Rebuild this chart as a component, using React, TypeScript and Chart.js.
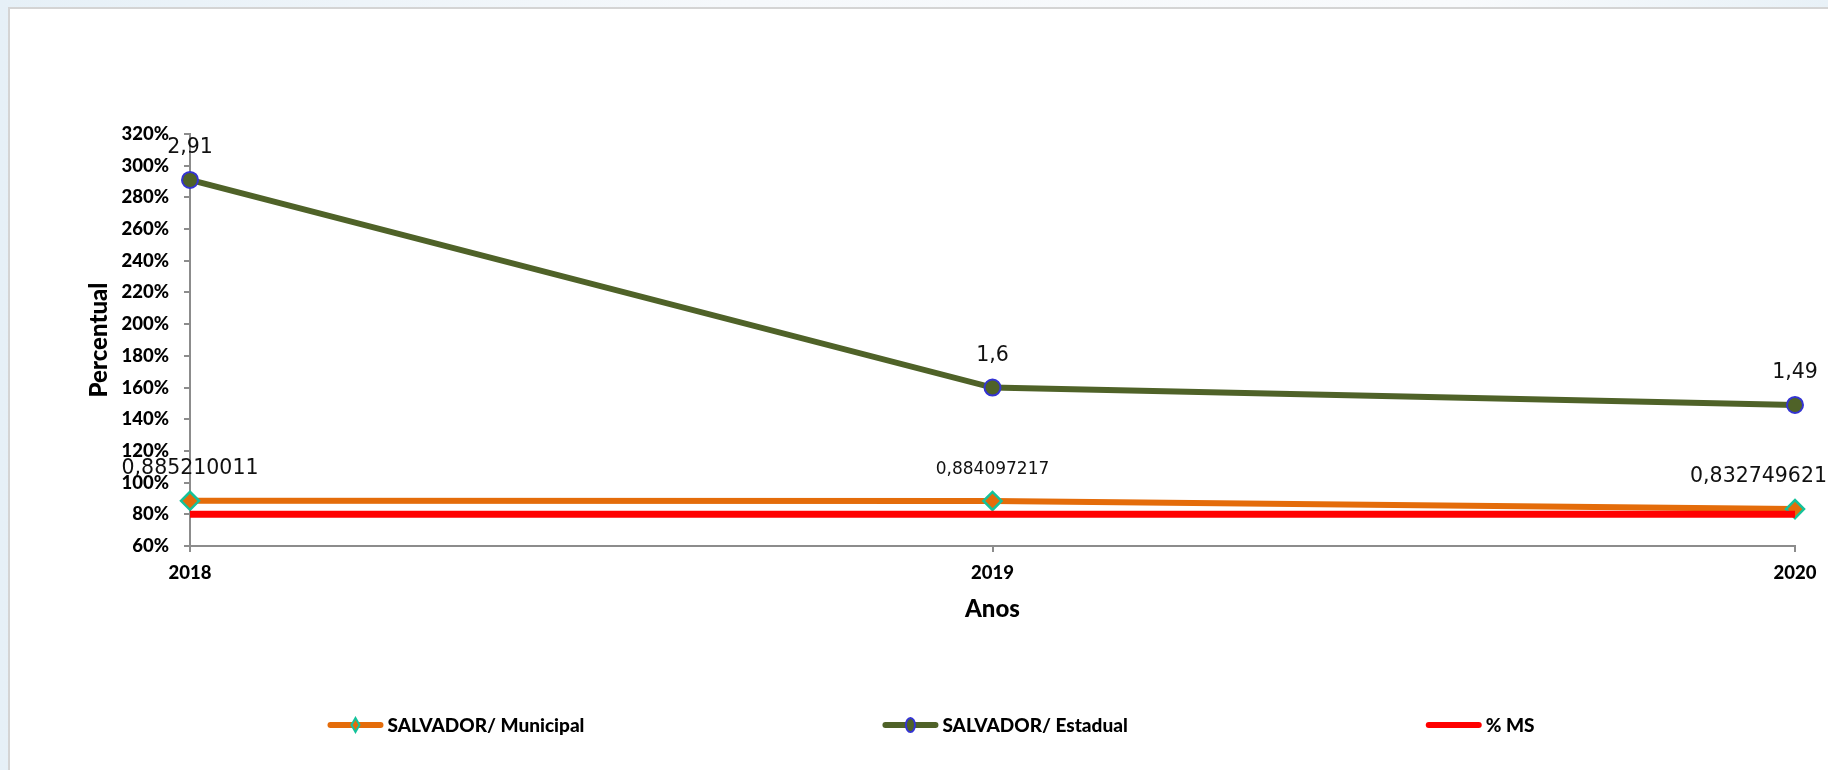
import React, { useEffect, useRef } from "react";
import { Chart, registerables } from "chart.js";

Chart.register(...registerables);

// ---- data ----
const years = ["2018", "2019", "2020"];
const municipal = [0.885210011, 0.884097217, 0.832749621];
const estadual = [2.91, 1.6, 1.49];
const metaMS = [0.8, 0.8, 0.8];
const seriesNames = ["SALVADOR/ Municipal", "SALVADOR/ Estadual", "% MS"];
const yMin = 0.6;
const yMax = 3.2;
const yStep = 0.2;
const xTitle = "Anos";
const yTitle = "Percentual";

// ---- styles ----
const municipalLabelSizes = [20.5, 17, 20.5];
const estadualLabelSizes = [20.5, 20.5, 20.5];
const ORANGE = "#E46C0A";
const TEAL = "#14C29A";
const OLIVE = "#4F6228";
const BLUE = "#3434D2";
const RED = "#FF0000";
const AXIS = "#8C8C8C";
const LABEL_FONT = "'DejaVu Sans', sans-serif";
const BOLD_FONT = "Lato, 'Open Sans', sans-serif";
const HEAVY = "900";

const fmt = (v: number) => String(v).replace(".", ",");

const dataLabelPlugin = {
  id: "dataLabels",
  afterDatasetsDraw(chart: any) {
    const ctx = chart.ctx;
    ctx.save();
    ctx.fillStyle = "#111";
    ctx.textAlign = "left";
    ctx.textBaseline = "alphabetic";
    chart.data.datasets.forEach((ds: any, di: number) => {
      const sizes = ds.labelSizes;
      if (!sizes) return;
      const meta = chart.getDatasetMeta(di);
      meta.data.forEach((pt: any, i: number) => {
        const text = fmt(ds.data[i]);
        ctx.font = `${sizes[i]}px ${LABEL_FONT}`;
        const w = ctx.measureText(text).width;
        let x = pt.x - w / 2;
        x = Math.min(x, chart.width - w - 1);
        ctx.fillText(text, x, pt.y - 27);
      });
    });
    ctx.restore();
  },
};

const legendPlugin = {
  id: "excelLegend",
  afterDraw(chart: any) {
    const ctx = chart.ctx;
    ctx.save();
    ctx.font = `${HEAVY} 19px ${BOLD_FONT}`;
    const lineLen = 56;
    const gapText = 4;
    const gapItem = 298;
    const widths = seriesNames.map((t) => lineLen + gapText + ctx.measureText(t).width);
    const total = widths.reduce((a, b) => a + b, 0) + gapItem * (seriesNames.length - 1);
    let x = chart.width / 2 + 12 - total / 2;
    const y = chart.height - 45;
    seriesNames.forEach((t, i) => {
      const ds = chart.data.datasets[i];
      ctx.strokeStyle = ds.borderColor;
      ctx.lineWidth = 6;
      ctx.lineCap = "round";
      ctx.beginPath();
      ctx.moveTo(x + 3, y);
      ctx.lineTo(x + lineLen - 3, y);
      ctx.stroke();
      const cx = x + lineLen / 2;
      if (ds.pointStyle === "rectRot") {
        ctx.beginPath();
        ctx.moveTo(cx, y - 7);
        ctx.lineTo(cx + 4, y);
        ctx.lineTo(cx, y + 7);
        ctx.lineTo(cx - 4, y);
        ctx.closePath();
        ctx.fillStyle = ds.pointBackgroundColor;
        ctx.fill();
        ctx.lineWidth = 2;
        ctx.strokeStyle = ds.pointBorderColor;
        ctx.stroke();
      } else if (ds.pointStyle === "circle" && ds.pointRadius > 0) {
        ctx.beginPath();
        ctx.ellipse(cx, y, 4.5, 7, 0, 0, Math.PI * 2);
        ctx.fillStyle = ds.pointBackgroundColor;
        ctx.fill();
        ctx.lineWidth = 2;
        ctx.strokeStyle = ds.pointBorderColor;
        ctx.stroke();
      }
      ctx.fillStyle = "#000";
      ctx.textAlign = "left";
      ctx.textBaseline = "middle";
      ctx.fillText(t, x + lineLen + gapText, y + 1);
      x += widths[i] + gapItem;
    });
    ctx.restore();
  },
};

export default function App() {
  const canvasRef = useRef<HTMLCanvasElement | null>(null);

  useEffect(() => {
    const canvas = canvasRef.current;
    if (!canvas) return;
    const tickFont = { family: BOLD_FONT, size: 18.5, weight: HEAVY };
    const titleFont = { family: BOLD_FONT, size: 24, weight: HEAVY };
    const chart = new Chart(canvas, {
      type: "line",
      data: {
        labels: years,
        datasets: [
          {
            label: seriesNames[0],
            data: municipal,
            borderColor: ORANGE,
            borderWidth: 6,
            pointStyle: "rectRot",
            pointRadius: 9,
            pointBackgroundColor: ORANGE,
            pointBorderColor: TEAL,
            pointBorderWidth: 2.5,
            tension: 0,
            clip: false,
            order: 2,
            labelSizes: municipalLabelSizes,
          } as any,
          {
            label: seriesNames[1],
            data: estadual,
            borderColor: OLIVE,
            borderWidth: 6,
            pointStyle: "circle",
            pointRadius: 8,
            pointBackgroundColor: OLIVE,
            pointBorderColor: BLUE,
            pointBorderWidth: 2,
            tension: 0,
            clip: false,
            order: 1,
            labelSizes: estadualLabelSizes,
          } as any,
          {
            label: seriesNames[2],
            data: metaMS,
            borderColor: RED,
            borderWidth: 7,
            pointRadius: 0,
            pointStyle: false,
            tension: 0,
            clip: false,
            order: 0,
          } as any,
        ],
      },
      options: {
        responsive: false,
        animation: false,
        devicePixelRatio: 1,
        events: [],
        layout: { padding: { top: 125, right: 33, left: 0, bottom: 129 } },
        plugins: {
          legend: { display: false },
          tooltip: { enabled: false },
          title: { display: false },
        },
        scales: {
          x: {
            type: "category",
            offset: false,
            grid: {
              display: true,
              drawOnChartArea: false,
              drawTicks: true,
              tickLength: 6,
              color: AXIS,
              lineWidth: 2,
            },
            border: { display: true, color: AXIS, width: 2 },
            ticks: {
              color: "#000",
              font: tickFont,
              padding: 10,
              maxRotation: 0,
              autoSkip: false,
            },
            title: {
              display: true,
              text: xTitle,
              color: "#000",
              font: titleFont,
              padding: { top: 0, bottom: 17 },
            },
            afterFit: (s: any) => {
              s.height = 95;
            },
          },
          y: {
            min: yMin,
            max: yMax,
            grid: {
              display: true,
              drawOnChartArea: false,
              drawTicks: true,
              tickLength: 6,
              color: AXIS,
              lineWidth: 2,
            },
            border: { display: true, color: AXIS, width: 2 },
            ticks: {
              stepSize: yStep,
              color: "#000",
              font: tickFont,
              padding: 15,
              callback: (v: any) => Math.round(Number(v) * 100) + "%",
            },
            title: {
              display: true,
              text: yTitle,
              color: "#000",
              font: titleFont,
              padding: { top: 75, bottom: 0 },
            },
            afterFit: (s: any) => {
              s.width = 180;
            },
          },
        },
      } as any,
      plugins: [dataLabelPlugin, legendPlugin],
    });
    let alive = true;
    if ((document as any).fonts && (document as any).fonts.ready) {
      (document as any).fonts.ready.then(() => {
        if (alive) chart.update();
      });
    }
    return () => {
      alive = false;
      chart.destroy();
    };
  }, []);

  return (
    <div
      style={{
        position: "fixed",
        left: 0,
        top: 0,
        width: 1828,
        height: 770,
        overflow: "hidden",
        background: "linear-gradient(90deg, #e6f0f7 0%, #f5f8fb 40%, #f8fafc 80%, #e8f1f7 100%)",
      }}
    >
      <div
        style={{
          position: "absolute",
          left: 8,
          top: 7,
          width: 1830,
          height: 770,
          background: "#fff",
          borderLeft: "2px solid #d4d4d4",
          borderTop: "2px solid #d4d4d4",
        }}
      >
        <canvas
          ref={canvasRef}
          width={1818}
          height={761}
          style={{ display: "block", width: 1818, height: 761 }}
        />
      </div>
    </div>
  );
}
